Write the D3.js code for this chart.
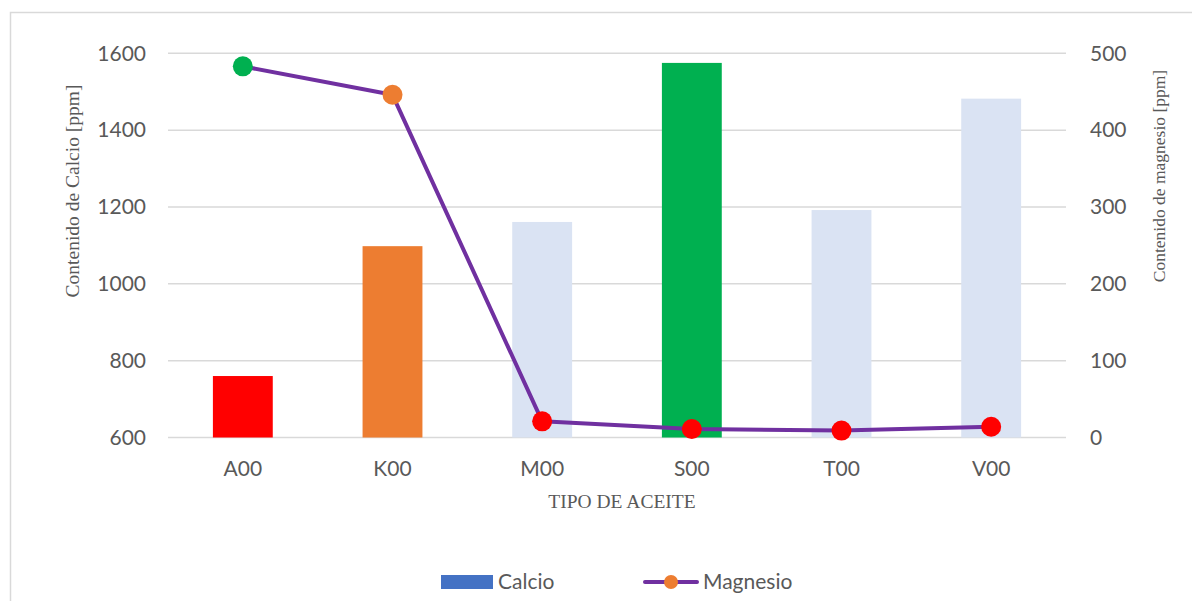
<!DOCTYPE html>
<html>
<head>
<meta charset="utf-8">
<script src="https://cdn.jsdelivr.net/npm/d3@7"></script>
<style>
  html, body { margin: 0; padding: 0; background: #fff; }
  svg { display: block; }
  .tick-label { font-family: Lato, "Open Sans", sans-serif; font-size: 21px; fill: #595959; }
  .axis-title { font-family: "Liberation Serif", "Times New Roman", serif; font-size: 19.5px; fill: #595959; }
</style>
</head>
<body>
<svg id="chart" width="1192" height="601"></svg>
<script>
// Oil types and measured contents
const categories = ["A00", "K00", "M00", "S00", "T00", "V00"];
const calcio = [760, 1098, 1161, 1575, 1192, 1482];     // ppm, left axis
const magnesio = [483, 446, 21, 11, 9, 14];             // ppm, right axis
const calcioTicks = [600, 800, 1000, 1200, 1400, 1600];
const magnesioTicks = [0, 100, 200, 300, 400, 500];

// Per-category colours for bars and markers
const barColors = ["#FF0000", "#ED7D31", "#DAE3F3", "#00B050", "#DAE3F3", "#DAE3F3"];
const markerColors = ["#00B050", "#ED7D31", "#FF0000", "#FF0000", "#FF0000", "#FF0000"];

const W = 1192, H = 601;
const plot = { left: 168, right: 1066, top: 53.3, bottom: 437.5 };

const svg = d3.select("#chart");

// Chart frame (open to the right and bottom)
svg.append("rect")
  .attr("x", 10.5).attr("y", 12.5)
  .attr("width", W + 20).attr("height", H + 20)
  .attr("fill", "none").attr("stroke", "#D9D9D9").attr("stroke-width", 1.5);

const x = d3.scaleBand().domain(categories).range([plot.left, plot.right]).paddingInner(0).paddingOuter(0);
const yL = d3.scaleLinear().domain([600, 1600]).range([plot.bottom, plot.top]);
const yR = d3.scaleLinear().domain([0, 500]).range([plot.bottom, plot.top]);

// Gridlines
svg.append("g").selectAll("line").data(calcioTicks).join("line")
  .attr("x1", plot.left).attr("x2", plot.right)
  .attr("y1", d => yL(d)).attr("y2", d => yL(d))
  .attr("stroke", "#D9D9D9").attr("stroke-width", 1.5);

function styleAxis(g) {
  g.select(".domain").remove();
  g.selectAll("text").attr("class", "tick-label").attr("font-family", null).attr("font-size", null);
}

// Left axis labels
const leftAxis = d3.axisLeft(yL).tickValues(calcioTicks).tickFormat(d3.format("d")).tickSize(0).tickPadding(22);
svg.append("g").attr("transform", `translate(${plot.left},0)`).call(leftAxis).call(styleAxis);

// Right axis labels
const rightAxis = d3.axisRight(yR).tickValues(magnesioTicks).tickFormat(d3.format("d")).tickSize(0).tickPadding(24);
svg.append("g").attr("transform", `translate(${plot.right},0)`).call(rightAxis).call(styleAxis);

// Category labels
const bottomAxis = d3.axisBottom(x).tickSize(0).tickPadding(24);
svg.append("g").attr("transform", `translate(0,${plot.bottom})`).call(bottomAxis).call(styleAxis);

// Calcio bars
const barW = x.bandwidth() * 0.4;
svg.append("g").selectAll("rect").data(categories).join("rect")
  .attr("x", d => x(d) + (x.bandwidth() - barW) / 2)
  .attr("width", barW)
  .attr("y", (d, i) => yL(calcio[i]))
  .attr("height", (d, i) => yL(600) - yL(calcio[i]))
  .attr("fill", (d, i) => barColors[i]);

// Magnesio line and markers
const cx = d => x(d) + x.bandwidth() / 2;
const line = d3.line().x((d, i) => cx(categories[i])).y(d => yR(d));
svg.append("path").datum(magnesio)
  .attr("d", line)
  .attr("fill", "none").attr("stroke", "#7030A0").attr("stroke-width", 4)
  .attr("stroke-linejoin", "round").attr("stroke-linecap", "round");
svg.append("g").selectAll("circle").data(magnesio).join("circle")
  .attr("cx", (d, i) => cx(categories[i]))
  .attr("cy", d => yR(d))
  .attr("r", 10)
  .attr("fill", (d, i) => markerColors[i]);

// Axis titles
svg.append("text").attr("class", "axis-title")
  .attr("transform", "translate(79,191) rotate(-90)")
  .attr("text-anchor", "middle").text("Contenido de Calcio [ppm]");
svg.append("text").attr("class", "axis-title")
  .attr("transform", "translate(1165,176) rotate(-90)")
  .attr("text-anchor", "middle").style("font-size", "17.5px").text("Contenido de magnesio [ppm]");
svg.append("text").attr("class", "axis-title")
  .attr("x", 622).attr("y", 508)
  .attr("text-anchor", "middle").text("TIPO DE ACEITE");

// Legend
const lg = svg.append("g");
lg.append("rect").attr("x", 441).attr("y", 575).attr("width", 52).attr("height", 14).attr("fill", "#4472C4");
lg.append("text").attr("class", "tick-label").attr("x", 498).attr("y", 582).attr("dy", "0.35em").text("Calcio");
lg.append("line").attr("x1", 645).attr("x2", 697).attr("y1", 582).attr("y2", 582)
  .attr("stroke", "#7030A0").attr("stroke-width", 4).attr("stroke-linecap", "round");
lg.append("circle").attr("cx", 671).attr("cy", 582).attr("r", 7).attr("fill", "#ED7D31");
lg.append("text").attr("class", "tick-label").attr("x", 703).attr("y", 582).attr("dy", "0.35em").text("Magnesio");
</script>
</body>
</html>
